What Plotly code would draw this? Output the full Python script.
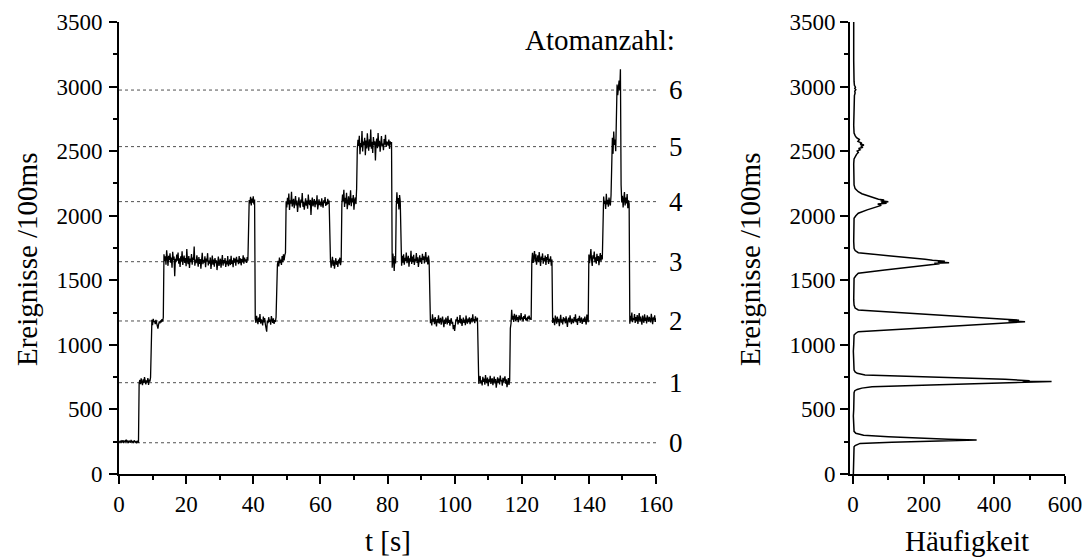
import plotly.graph_objects as go

# ---------------- data ----------------
DT = 0.2  # sampling interval of the time trace [s]

# Ereignisse / 100ms (one value per 0.2 s)
trace_counts = [
    # 0 atoms (0 - 6 s)
    252, 247, 258, 243, 255, 249, 262, 240, 251, 257, 245, 266, 248, 254, 239,
    259, 250, 244, 263, 247, 256, 241, 253, 260, 246, 250, 238, 257, 249, 243,
    # 1 atom
    702, 728, 695, 741, 712, 688, 733, 706, 751, 719, 694, 725, 709, 742, 690, 731, 716, 748,
    # 2 atoms
    1168, 1195, 1152, 1201, 1177, 1185, 1160, 1193, 1171, 1148, 1125, 1158, 1182, 1166, 1190,
    1174, 1199, 1181, 1213,
    # 3 atoms (13.4 - 38.4 s)
    1702, 1648, 1685, 1621, 1733, 1664, 1612, 1690, 1655, 1708,
    1637, 1676, 1598, 1721, 1659, 1684, 1532, 1667, 1640, 1699,
    1652, 1715, 1628, 1670, 1603, 1686, 1647, 1725, 1618, 1663,
    1691, 1634, 1672, 1609, 1742, 1651, 1626, 1688, 1595, 1669,
    1641, 1703, 1620, 1676, 1657, 1761, 1613, 1660, 1632, 1694,
    1648, 1606, 1679, 1627, 1665, 1590, 1652, 1712, 1624, 1658,
    1637, 1685, 1601, 1669, 1644, 1710, 1615, 1653, 1629, 1677,
    1588, 1646, 1691, 1620, 1660, 1605, 1672, 1633, 1654, 1579,
    1625, 1683, 1611, 1648, 1667, 1597, 1639, 1695, 1614, 1656,
    1631, 1672, 1604, 1650, 1623, 1688, 1609, 1645, 1662, 1618,
    1690, 1627, 1655, 1601, 1674, 1636, 1668, 1613, 1681, 1642,
    1659, 1624, 1687, 1633, 1670, 1616, 1664, 1639, 1693, 1628,
    1675, 1647, 1661, 1634, 1680, 1652,
    # 4 atoms
    2068, 2121, 2095, 2147, 2079, 2133, 2102, 2150, 2088, 2126,
    # 2 atoms
    1203, 1171, 1225, 1186, 1160, 1212, 1178, 1239, 1165, 1197,
    1183, 1150, 1219, 1174, 1208, 1161, 1135, 1102, 1189, 1168,
    1214, 1179, 1195, 1157, 1223, 1184, 1170, 1206, 1163, 1192, 1177, 1215,
    # 3 atoms
    1598, 1622, 1651, 1608, 1676, 1633, 1660, 1619, 1688, 1641, 1702, 1654, 1695, 1712,
    # 4 atoms (49.8 - 62.6 s)
    2112, 2064, 2139, 2088, 2171, 2045, 2120, 2093, 2185, 2071,
    2104, 2131, 2058, 2096, 2152, 2079, 2117, 2030, 2099, 2143,
    2086, 2062, 2125, 2101, 2176, 2069, 2110, 2047, 2091, 2135,
    2078, 2118, 2054, 2164, 2097, 2083, 2122, 2005, 2106, 2140,
    2073, 2095, 2129, 2066, 2115, 2087, 2158, 2049, 2102, 2126,
    2081, 2110, 2070, 2134, 2093, 2062, 2119, 2098, 2145, 2076,
    2108, 2085, 2130, 2091, 2117,
    # 3 atoms
    1721, 1663, 1598, 1647, 1682, 1612, 1655, 1589, 1636, 1671, 1620, 1648, 1603, 1660, 1631,
    1675, 1617, 1652,
    # 4 atoms
    2087, 2164, 2112, 2201, 2068, 2139, 2095, 2178, 2051, 2123,
    2150, 2082, 2117, 2196, 2073, 2134, 2104, 2160, 2046, 2119, 2141, 2090, 2208,
    # 5 atoms (71 - 81.2 s)
    2512, 2588, 2541, 2619, 2477, 2563, 2530, 2655, 2498, 2574,
    2547, 2603, 2469, 2582, 2521, 2638, 2556, 2503, 2591, 2534,
    2667, 2519, 2572, 2486, 2610, 2549, 2577, 2428, 2564, 2598,
    2523, 2641, 2540, 2581, 2495, 2568, 2616, 2537, 2559, 2507,
    2594, 2551, 2626, 2533, 2575, 2562, 2544, 2589, 2518, 2576,
    2553, 2570,
    # 3 atoms
    1598, 1706, 1655, 1572, 1688, 1630,
    # 4 atoms
    2065, 2182, 2094, 2137, 2048, 2160, 2111,
    # 3 atoms (84 - 92.4 s)
    1665, 1612, 1689, 1637, 1702, 1620, 1674, 1648, 1715, 1633,
    1659, 1690, 1606, 1671, 1645, 1728, 1627, 1683, 1641, 1697,
    1618, 1666, 1652, 1710, 1635, 1679, 1603, 1662, 1694, 1640,
    1673, 1626, 1705, 1657, 1686, 1631, 1669, 1718, 1644, 1678,
    1622, 1691, 1649,
    # 2 atoms (92.6 - 106.8 s)
    1222, 1168, 1197, 1151, 1236, 1179, 1204, 1160, 1215, 1187,
    1143, 1199, 1172, 1228, 1165, 1190, 1209, 1157, 1183, 1219,
    1175, 1137, 1196, 1162, 1211, 1181, 1158, 1224, 1170, 1193,
    1149, 1186, 1206, 1163, 1178, 1121, 1154, 1108, 1169, 1198,
    1184, 1217, 1159, 1192, 1173, 1230, 1166, 1201, 1146, 1188,
    1212, 1170, 1195, 1153, 1227, 1181, 1164, 1203, 1176, 1214,
    1160, 1191, 1208, 1174, 1237, 1185, 1199, 1168, 1221, 1194,
    1182, 1210,
    # 1 atom (107 - 116.4 s)
    744, 698, 731, 759, 702, 726, 685, 752, 714, 738,
    691, 767, 720, 705, 746, 679, 733, 712, 761, 697,
    728, 741, 688, 716, 754, 701, 735, 669, 722, 748,
    707, 739, 694, 763, 718, 730, 683, 745, 711, 727,
    756, 699, 734, 672, 719, 742, 690, 725,
    # 2 atoms
    1128, 1165, 1271, 1196, 1224, 1178, 1240, 1203, 1185, 1232,
    1194, 1215, 1176, 1228, 1207, 1189, 1246, 1198, 1213, 1181,
    1222, 1202, 1236, 1190, 1209, 1184, 1218, 1200, 1227, 1195,
    1211, 1193,
    # 3 atoms
    1652, 1713, 1634, 1688, 1726, 1647, 1701, 1621, 1675, 1694,
    1640, 1719, 1663, 1611, 1684, 1657, 1708, 1629, 1671, 1646,
    1692, 1618, 1679, 1655, 1703, 1626, 1667, 1644, 1685, 1613, 1660,
    # 2 atoms (129.2 - 139.8 s)
    1170, 1209, 1185, 1152, 1226, 1193, 1164, 1218, 1177, 1201,
    1145, 1189, 1232, 1172, 1198, 1158, 1214, 1183, 1205, 1167,
    1221, 1180, 1139, 1196, 1210, 1174, 1229, 1187, 1161, 1203,
    1192, 1168, 1216, 1181, 1236, 1175, 1199, 1155, 1207, 1186,
    1224, 1171, 1195, 1212, 1163, 1190, 1204, 1178, 1219, 1183,
    1157, 1234, 1196, 1175,
    # 3 atoms
    1700, 1632, 1684, 1741, 1655, 1611, 1693, 1667, 1723, 1640,
    1678, 1629, 1705, 1651, 1688, 1617, 1672, 1710, 1646, 1695, 1661,
    # 4 atoms
    2062, 2148, 2091, 2115, 2053, 2170, 2087, 2124, 2069, 2141, 2098, 2079, 2156,
    # 5 atoms
    2522, 2604, 2479, 2651, 2548, 2590, 2500,
    # 6 atoms
    2958, 3015, 2934, 2987, 3046, 2972, 3134,
    # 4 atoms
    2238, 2102, 2155, 2064, 2127, 2183, 2079, 2140, 2096, 2168, 2058, 2119, 2093,
    # 2 atoms (152.2 - 160 s)
    1163, 1224, 1187, 1251, 1176, 1208, 1193, 1239, 1170, 1215,
    1184, 1230, 1162, 1202, 1246, 1179, 1219, 1190, 1157, 1226,
    1198, 1171, 1236, 1185, 1211, 1166, 1228, 1195, 1180, 1217,
    1203, 1174, 1241, 1188, 1160, 1213, 1192, 1229, 1178, 1206,
]

# count-rate levels for each atom number (dashed lines)
atom_numbers = [0, 1, 2, 3, 4, 5, 6]
atom_levels = [242, 707, 1185, 1644, 2109, 2535, 2973]

# histogram (right panel): Ereignisse/100ms vs. Häufigkeit
hist_events = [
    0, 100, 200, 211, 220, 230, 237, 245, 250, 256,
    263, 270, 278, 289, 300, 315, 330, 360, 400, 450,
    500, 550, 600, 630, 645, 655, 665, 676, 690, 700,
    707, 713, 716, 719, 723, 733, 750, 767, 780, 790,
    805, 850, 900, 950, 1000, 1050, 1076, 1090, 1102, 1125,
    1150, 1167, 1172, 1179, 1185, 1191, 1198, 1225, 1250, 1270,
    1285, 1308, 1350, 1400, 1450, 1500, 1515, 1535, 1554, 1580,
    1605, 1620, 1628, 1632, 1636, 1642, 1648, 1655, 1662, 1690,
    1714, 1730, 1748, 1800, 1850, 1900, 1950, 1980, 2000, 2019,
    2045, 2065, 2080, 2090, 2097, 2103, 2109, 2115, 2122, 2127,
    2150, 2170, 2186, 2210, 2238, 2300, 2350, 2400, 2440, 2460,
    2475, 2490, 2500, 2510, 2520, 2530, 2540, 2548, 2555, 2562,
    2575, 2590, 2605, 2620, 2640, 2700, 2750, 2800, 2850, 2900,
    2930, 2950, 2965, 2975, 2985, 2995, 3010, 3040, 3100, 3150,
    3200, 3300, 3400, 3500,
]
hist_freq = [
    1, 1, 1, 3, 6, 12, 20, 110, 180, 280,
    350, 270, 190, 100, 30, 8, 3, 2, 2, 1,
    2, 2, 2, 3, 5, 12, 25, 54, 220, 340,
    430, 470, 562, 480, 500, 430, 220, 34, 12, 6,
    3, 2, 2, 1, 2, 2, 3, 8, 15, 160,
    315, 421, 460, 487, 440, 470, 430, 265, 120, 15,
    6, 3, 2, 2, 1, 2, 3, 8, 15, 90,
    166, 220, 245, 230, 272, 240, 260, 225, 204, 100,
    15, 6, 3, 2, 2, 1, 2, 3, 8, 15,
    40, 62, 80, 70, 95, 80, 100, 78, 88, 72,
    45, 25, 15, 6, 3, 2, 2, 2, 3, 6,
    10, 15, 12, 20, 16, 28, 22, 31, 20, 25,
    14, 18, 10, 6, 3, 2, 2, 2, 3, 3,
    4, 6, 5, 8, 5, 7, 4, 3, 2, 3,
    2, 2, 2, 2,
]

trace_t = [i * DT for i in range(len(trace_counts))]

# ---------------- figure ----------------
W, H = 1087, 557
FONT = "Liberation Serif, Times New Roman, serif"

def px(x):
    return x / W

def py(y):
    return 1 - y / H

fig = go.Figure()

for lvl in atom_levels:
    fig.add_trace(go.Scatter(
        x=[0, 160], y=[lvl, lvl], mode="lines",
        line=dict(color="#505050", width=1, dash="3px,3px"),
        xaxis="x", yaxis="y", hoverinfo="skip"))

fig.add_trace(go.Scatter(
    x=trace_t, y=trace_counts, mode="lines",
    line=dict(color="black", width=1.3), xaxis="x", yaxis="y"))

fig.add_trace(go.Scatter(
    x=hist_freq, y=hist_events, mode="lines",
    line=dict(color="black", width=1.5), xaxis="x2", yaxis="y2"))

tick_font = dict(family=FONT, size=23, color="black")

def minor(step):
    return dict(ticks="outside", ticklen=4, tickwidth=1.5,
                tickcolor="black", tick0=0, dtick=step)

axis_common = dict(
    ticks="outside", ticklen=8, tickwidth=1.5, tickcolor="black",
    showline=True, linecolor="black", linewidth=2, automargin=False,
    showgrid=False, zeroline=False, tickmode="linear", tick0=0,
    tickfont=tick_font,
)

ydom = [83 / H, 535 / H]

fig.update_layout(
    template="none",
    width=W, height=H,
    margin=dict(l=0, r=0, t=0, b=0, pad=0, autoexpand=False),
    paper_bgcolor="white", plot_bgcolor="white",
    showlegend=False,
    font=dict(family=FONT, color="black", size=23),
    xaxis=dict(domain=[px(119), px(656)], anchor="y", range=[0, 160],
               dtick=20, minor=minor(10), **axis_common),
    yaxis=dict(domain=ydom, anchor="x", range=[0, 3500],
               dtick=500, minor=minor(250), ticklabelstandoff=2, **axis_common),
    xaxis2=dict(domain=[px(850), px(1065)], anchor="y2", range=[-8.5, 600],
                dtick=200, minor=minor(100), **axis_common),
    yaxis2=dict(domain=ydom, anchor="x2", range=[0, 3500],
                dtick=500, minor=minor(250), **axis_common),
)

ann = []
# atom number labels (right of the time trace)
for n, lvl in zip(atom_numbers, atom_levels):
    ann.append(dict(x=px(676), y=lvl, xref="paper", yref="y", text=str(n),
                    showarrow=False, xanchor="center", yanchor="middle",
                    font=dict(family=FONT, size=27, color="black")))
ann.append(dict(x=px(677), y=3361, xref="paper", yref="y", text="Atomanzahl:",
                showarrow=False, xanchor="right", yanchor="middle",
                font=dict(family=FONT, size=29, color="black")))
# axis titles
title_font = dict(family=FONT, size=29, color="black")
ann.append(dict(x=px(388), y=py(541), xref="paper", yref="paper", text="t [s]",
                showarrow=False, xanchor="center", yanchor="middle", font=title_font))
ann.append(dict(x=px(967), y=py(541), xref="paper", yref="paper", text="Häufigkeit",
                showarrow=False, xanchor="center", yanchor="middle", font=title_font))
ann.append(dict(x=px(27), y=py(260), xref="paper", yref="paper",
                text="Ereignisse /100ms", textangle=-90,
                showarrow=False, xanchor="center", yanchor="middle", font=title_font))
ann.append(dict(x=px(750), y=py(260), xref="paper", yref="paper",
                text="Ereignisse /100ms", textangle=-90,
                showarrow=False, xanchor="center", yanchor="middle", font=title_font))
fig.update_layout(annotations=ann)

fig.write_html("out.html", config={"displayModeBar": False})
